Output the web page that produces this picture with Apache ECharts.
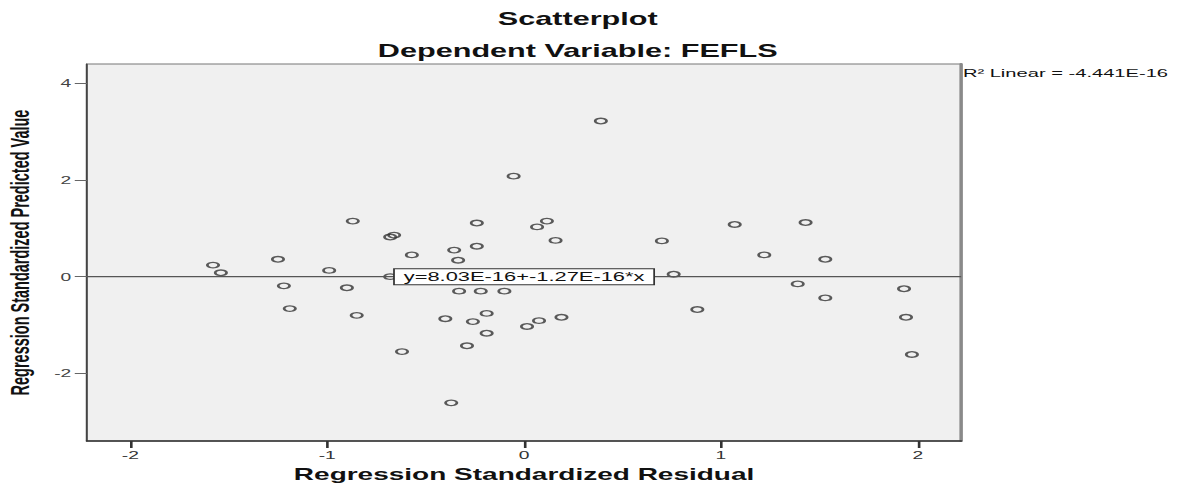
<!DOCTYPE html>
<html>
<head>
<meta charset="utf-8">
<script src="https://cdn.jsdelivr.net/npm/echarts@6/dist/echarts.min.js"></script>
<style>
  html, body { margin: 0; padding: 0; background: #fff; overflow: hidden; }
  /* the reference picture is stretched sideways, so the chart is drawn narrow and scaled */
  #chart { width: 678px; height: 488px; transform: scaleX(1.7507); transform-origin: 0 0; }
</style>
</head>
<body>
<div id="chart"></div>
<script>
// Regression Standardized Residual (x) and Predicted Value (y)
const residual = [-1.58, -1.54, -1.25, -1.22, -1.19, -0.99, -0.90, -0.87, -0.85, -0.68,
  -0.66, -0.62, -0.68, -0.57, -0.355, -0.335, -0.24, -0.24, -0.053, 0.066,
  0.116, 0.16, 0.39, 0.70, 0.76, 1.07, 1.22, -0.33, -0.22, -0.10,
  -0.40, -0.26, -0.19, -0.19, -0.29, 0.015, 0.076, 0.19, 0.88, -0.37,
  1.43, 1.53, 1.39, 1.53, 1.93, 1.94, 1.97];
const predicted = [0.24, 0.08, 0.36, -0.19, -0.66, 0.13, -0.23, 1.15, -0.80, 0.82,
  0.86, -1.55, 0.0, 0.45, 0.55, 0.34, 1.11, 0.63, 2.08, 1.03,
  1.15, 0.75, 3.22, 0.74, 0.05, 1.08, 0.45, -0.30, -0.30, -0.30,
  -0.87, -0.93, -0.76, -1.17, -1.43, -1.03, -0.91, -0.84, -0.68, -2.61,
  1.12, 0.36, -0.15, -0.44, -0.25, -0.84, -1.61];

const xTicks = [-2, -1, 0, 1, 2];
const yTicks = [-2, 0, 2, 4];
const xRange = [-2.22, 2.22];
const yRange = [-3.4, 4.4];

// fit line
const intercept = 8.03e-16;
const slope = -1.27e-16;
const r2Linear = -4.441e-16;

const font = 'Liberation Sans, Arial, sans-serif';
const sci = (v, d) => v.toExponential(d).toUpperCase();

const points = residual.map((x, i) => [x, predicted[i]]);
const fitLine = xRange.map((x) => [x, intercept + slope * x]);
const eqText = 'y=' + sci(intercept, 2) + '+' + sci(slope, 2) + '*x';

const chart = echarts.init(document.getElementById('chart'), null, { renderer: 'svg' });

const option = {
  animation: false,
  backgroundColor: '#fff',
  textStyle: { fontFamily: font },
  title: [
    {
      text: 'Scatterplot',
      left: 330, top: 10, textAlign: 'center', padding: 0,
      textStyle: { fontSize: 17.5, fontWeight: 'bold', color: '#111', fontFamily: font },
    },
    {
      text: 'Dependent Variable: FEFLS',
      left: 330, top: 41.5, textAlign: 'center', padding: 0,
      textStyle: { fontSize: 17.5, fontWeight: 'bold', color: '#111', fontFamily: font },
    },
  ],
  graphic: [
    {
      type: 'text', left: 550, top: 67,
      style: { text: 'R² Linear = ' + sci(r2Linear, 3), fontSize: 11.5, fill: '#111', fontFamily: font },
    },
  ],
  grid: {
    left: 49.7, right: 129, top: 64, bottom: 47,
    outerBoundsMode: 'none',
    containLabel: false,
    show: true, backgroundColor: '#f0f0f0', borderColor: '#777', borderWidth: 1,
  },
  xAxis: {
    type: 'value',
    min: xRange[0], max: xRange[1],
    splitLine: { show: false },
    axisLine: { onZero: false, lineStyle: { color: '#333', width: 1.5 } },
    axisTick: { customValues: xTicks, length: 7, lineStyle: { color: '#333', width: 1.5 } },
    axisLabel: { customValues: xTicks, margin: 9, fontSize: 11, color: '#333', fontFamily: font },
    name: 'Regression Standardized Residual',
    nameLocation: 'middle',
    nameGap: 24,
    nameTextStyle: { fontSize: 16, fontWeight: 'bold', color: '#111', fontFamily: font },
  },
  yAxis: [
    {
      type: 'value',
      position: 'left',
      min: yRange[0], max: yRange[1],
      splitLine: { show: false },
      axisLine: { show: true, onZero: false, lineStyle: { color: '#444', width: 1 } },
      axisTick: { show: true, customValues: yTicks, length: 7, lineStyle: { color: '#666', width: 1 } },
      axisLabel: { customValues: yTicks, margin: 9, fontSize: 11, color: '#444', fontFamily: font },
      name: 'Regression Standardized Predicted Value',
      nameLocation: 'middle',
      nameGap: 31,
      nameTextStyle: { fontSize: 14.5, fontWeight: 'bold', color: '#111', fontFamily: font },
    },
    {
      // darker right edge of the plot frame
      type: 'value',
      position: 'right',
      min: yRange[0], max: yRange[1],
      splitLine: { show: false },
      axisLine: { show: true, onZero: false, lineStyle: { color: '#8a8a8a', width: 2 } },
      axisTick: { show: false },
      axisLabel: { show: false },
    },
  ],
  series: [
    {
      name: 'points',
      type: 'scatter',
      z: 2,
      symbol: 'circle',
      symbolSize: [6.5, 5.5],
      itemStyle: { color: 'rgba(0,0,0,0)', borderColor: '#333', borderWidth: 1.4 },
      data: points,
    },
    {
      name: 'fit',
      type: 'line',
      z: 3,
      symbol: 'none',
      lineStyle: { color: '#555', width: 1.2 },
      data: fitLine,
      markPoint: {
        symbol: 'circle',
        symbolSize: 0,
        data: [
          {
            coord: [0, intercept],
            label: {
              show: true,
              position: 'inside',
              formatter: eqText,
              fontSize: 12.5,
              color: '#111',
              fontFamily: font,
              backgroundColor: '#fff',
              borderColor: '#333',
              borderWidth: 1,
              padding: [1, 5, 1, 5],
            },
          },
        ],
      },
    },
  ],
};

chart.setOption(option);
</script>
</body>
</html>
